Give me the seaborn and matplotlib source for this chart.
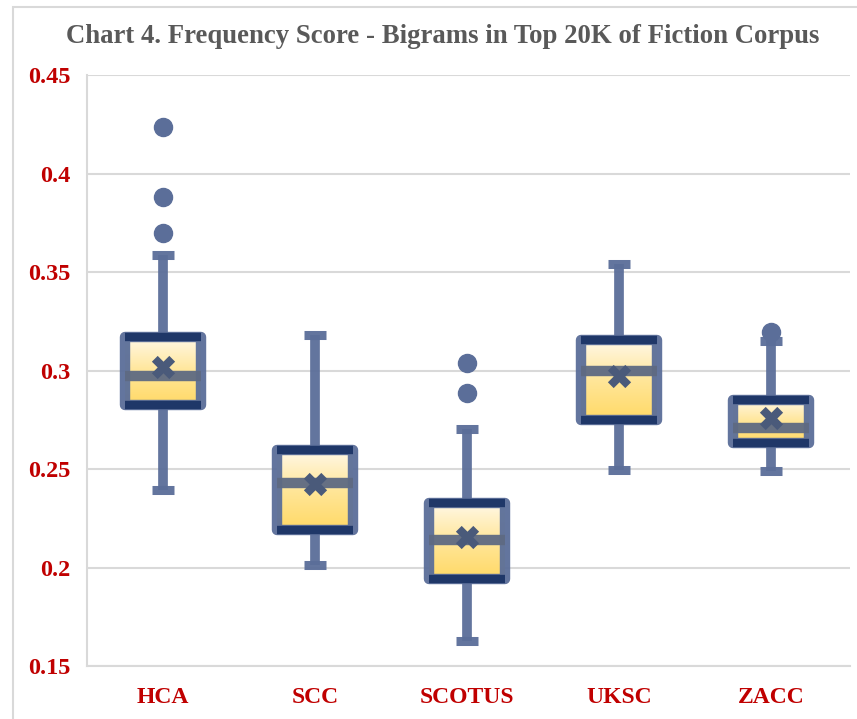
import numpy as np
import matplotlib
matplotlib.use("Agg")
import matplotlib.pyplot as plt
import seaborn as sns
import pandas as pd
from matplotlib.patches import Rectangle

# ---- data ----
categories = ["HCA", "SCC", "SCOTUS", "UKSC", "ZACC"]
q1 = [0.2825, 0.2190, 0.1940, 0.2750, 0.2630]
median = [0.2970, 0.2430, 0.2140, 0.3000, 0.2710]
q3 = [0.3170, 0.2595, 0.2325, 0.3155, 0.2850]
whislo = [0.2395, 0.2013, 0.1627, 0.2495, 0.2490]
whishi = [0.3585, 0.3180, 0.2703, 0.3540, 0.3150]
means = [0.3020, 0.2425, 0.2155, 0.2970, 0.2760]
fliers = [[0.4236, 0.3880, 0.3700], [], [0.3038, 0.2886], [], [0.3195]]
yticks = [0.15, 0.2, 0.25, 0.3, 0.35, 0.4, 0.45]
ytick_labels = ["0.15", "0.2", "0.25", "0.3", "0.35", "0.4", "0.45"]
title = "Chart 4. Frequency Score - Bigrams in Top 20K of Fiction Corpus"

sns.set_theme(style="white")
plt.rcParams["font.family"] = ["Liberation Serif", "DejaVu Serif"]

BLUE = "#5b6e99"
NAVY = "#1f3768"
MED = "#5e6a82"
RED = "#c00000"
GRID = "#d9d9d9"

fig = plt.figure(figsize=(8.57, 7.19), dpi=100)
ax = fig.add_axes([87 / 857, 53 / 719, (850 - 87) / 857, (666 - 75) / 719])

# figure border
fig.patches.append(Rectangle((13 / 857, -0.01), 1.0, (719 - 7) / 719 + 0.01,
                             transform=fig.transFigure, fill=False,
                             edgecolor=GRID, linewidth=1.5, zorder=0))

pos = np.arange(len(categories))
stats = []
for i, c in enumerate(categories):
    stats.append(dict(label=c, q1=q1[i], med=median[i], q3=q3[i],
                      whislo=whislo[i], whishi=whishi[i], mean=means[i],
                      fliers=fliers[i]))

bw = 0.5
res = ax.bxp(stats, positions=pos, widths=bw, patch_artist=True,
             showmeans=False, showfliers=True,
             boxprops=dict(facecolor="none", edgecolor=BLUE, linewidth=7.5,
                           joinstyle="round", alpha=0.95, zorder=4),
             whiskerprops=dict(color=BLUE, linewidth=7, alpha=0.95,
                               solid_capstyle="butt", zorder=2),
             capprops=dict(color=BLUE, linewidth=6.5, alpha=0.95,
                           solid_capstyle="butt", zorder=2),
             medianprops=dict(color=MED, linewidth=7.5, alpha=0.95, zorder=5,
                              solid_capstyle="butt"),
             flierprops=dict(marker="o", markersize=13, markerfacecolor=BLUE,
                             markeredgecolor=BLUE, linestyle="none", zorder=3),
             capwidths=0.145)

# gradient fill of the boxes
grad = np.linspace(0, 1, 256).reshape(-1, 1)
cmap = matplotlib.colors.LinearSegmentedColormap.from_list(
    "g", ["#ffd966", "#ffe699", "#fff8e6"])
for i, patch in enumerate(res["boxes"]):
    im = ax.imshow(grad, cmap=cmap, aspect="auto", origin="lower",
                   extent=[pos[i] - bw / 2, pos[i] + bw / 2, q1[i], q3[i]],
                   zorder=3)
    im.set_clip_path(patch)

# dark quartile bars
ax.hlines(q3, pos - bw / 2, pos + bw / 2, color=NAVY, linewidth=6, zorder=6)
ax.hlines(q1, pos - bw / 2, pos + bw / 2, color=NAVY, linewidth=6, zorder=6)

# mean markers
df_mean = pd.DataFrame({"x": pos, "y": means})
sns.scatterplot(data=df_mean, x="x", y="y", marker="X", s=280, color="#4a5a7a",
                edgecolor="#4a5a7a", linewidth=0, ax=ax, zorder=7, legend=False)

ax.set_xlim(-0.5, 4.52)
ax.set_ylim(0.15, 0.45)
ax.set_xticks(pos)
ax.set_xticklabels(categories)
ax.set_yticks(yticks)
ax.set_yticklabels(ytick_labels)
ax.set_xlabel("")
ax.set_ylabel("")
ax.grid(axis="y", color=GRID, linewidth=1.5, zorder=0)
ax.set_axisbelow(True)
for s in ["top", "right"]:
    ax.spines[s].set_visible(False)
for s in ["left", "bottom"]:
    ax.spines[s].set_color(GRID)
    ax.spines[s].set_linewidth(1.5)
ax.tick_params(axis="y", length=0, pad=12, labelsize=17.5)
ax.tick_params(axis="x", length=0, pad=15, labelsize=17)
for lab in ax.get_xticklabels() + ax.get_yticklabels():
    lab.set_color(RED)
    lab.set_fontweight("bold")

fig.text(0.516, 0.949, title, ha="center", va="center", fontsize=19.3,
         fontweight="bold", color="#595959")

fig.savefig("out.png", dpi=100)
